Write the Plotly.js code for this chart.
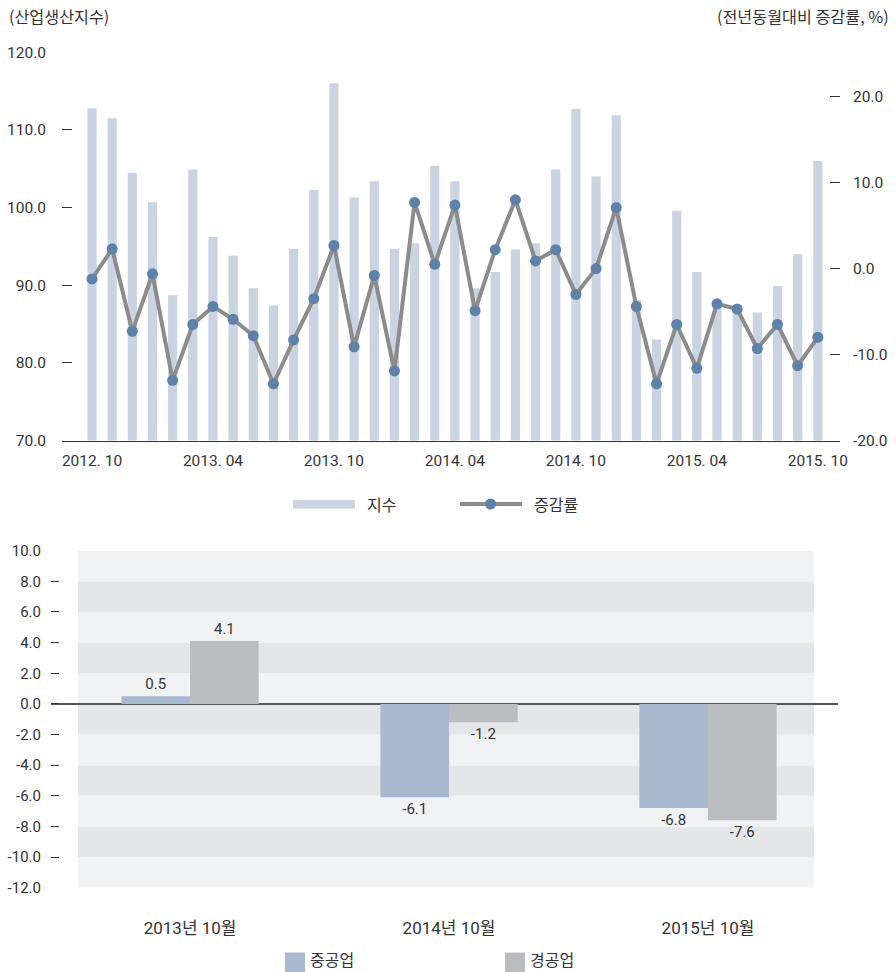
<!DOCTYPE html>
<html>
<head>
<meta charset="utf-8">
<script src="https://cdn.plot.ly/plotly-3.0.1.min.js"></script>
<style>html,body{margin:0;padding:0;background:#fff;}#chart{width:896px;height:972px;}</style>
</head>
<body>
<div id="chart"></div>
<script>
// ---------- DATA ----------
const monthLabels = ["2012.10","2012.11","2012.12","2013.01","2013.02","2013.03","2013.04","2013.05","2013.06","2013.07","2013.08","2013.09","2013.10","2013.11","2013.12","2014.01","2014.02","2014.03","2014.04","2014.05","2014.06","2014.07","2014.08","2014.09","2014.10","2014.11","2014.12","2015.01","2015.02","2015.03","2015.04","2015.05","2015.06","2015.07","2015.08","2015.09","2015.10"];
const indexValues = [112.8,111.5,104.5,100.7,88.7,104.9,96.2,93.8,89.6,87.4,94.7,102.3,116.0,101.3,103.4,94.7,95.4,105.4,103.4,89.6,91.7,94.6,95.4,104.9,112.7,104.0,111.9,88.1,83.0,99.6,91.7,88.0,86.9,86.5,89.9,94.0,106.0];
const rateValues = [-1.2,2.3,-7.3,-0.6,-13.0,-6.5,-4.4,-5.9,-7.8,-13.4,-8.3,-3.5,2.7,-9.1,-0.8,-11.9,7.7,0.5,7.4,-4.9,2.2,8.0,0.9,2.2,-3.0,0.0,7.1,-4.4,-13.4,-6.5,-11.6,-4.1,-4.7,-9.3,-6.5,-11.3,-8.0];
const topTickIdx = [0,6,12,18,24,30,36];
const topTickText = ["2012. 10","2013. 04","2013. 10","2014. 04","2014. 10","2015. 04","2015. 10"];
const leftTicks = [70,80,90,100,110,120];
const rightTicks = [-20,-10,0,10,20];
const topSeriesNames = ["지수","증감률"];
const topAxisTitles = ["(산업생산지수)","(전년동월대비 증감률, %)"];

const periods = ["2013년 10월","2014년 10월","2015년 10월"];
const heavyValues = [0.5,-6.1,-6.8];
const lightValues = [4.1,-1.2,-7.6];
const bottomSeriesNames = ["중공업","경공업"];
const bottomTicks = [-12,-10,-8,-6,-4,-2,0,2,4,6,8,10];

// ---------- STYLE ----------
const W = 896, H = 972;
const px = x => x / W;
const py = y => 1 - y / H;
const NUM_FONT = "Roboto, 'Noto Sans CJK KR', sans-serif";
const KR_FONT = "'Noto Sans CJK KR', sans-serif";
const TXT = "#333333";
const BAR_C = "#cad3e1", LINE_C = "#8c8c8c", DOT_C = "#5d81a8";
const HEAVY_C = "#a9b9d0", LIGHT_C = "#bbbcc0";
const BAND_LIGHT = "#f1f2f4", BAND_DARK = "#e5e6e8";

const xIdx = monthLabels.map((_, i) => i);

const traces = [
  {type:"bar", x:xIdx, y:indexValues, name:topSeriesNames[0], xaxis:"x", yaxis:"y",
   marker:{color:BAR_C}, width:0.455, showlegend:false, hoverinfo:"y"},
  {type:"scatter", mode:"lines+markers", x:xIdx, y:rateValues, name:topSeriesNames[1], xaxis:"x", yaxis:"y2",
   line:{color:LINE_C, width:4}, marker:{color:DOT_C, size:11}, showlegend:false},
  {type:"bar", x:periods, y:heavyValues, name:bottomSeriesNames[0], xaxis:"x2", yaxis:"y3",
   marker:{color:HEAVY_C}, text:heavyValues.map(v=>v.toFixed(1)), textposition:"outside",
   textfont:{family:NUM_FONT, size:15, color:TXT}, cliponaxis:false, showlegend:false},
  {type:"bar", x:periods, y:lightValues, name:bottomSeriesNames[1], xaxis:"x2", yaxis:"y3",
   marker:{color:LIGHT_C}, text:lightValues.map(v=>v.toFixed(1)), textposition:"outside",
   textfont:{family:NUM_FONT, size:15, color:TXT}, cliponaxis:false, showlegend:false}
];

// background bands for bottom chart, from its tick values
const shapes = [];
for (let i = 0; i < bottomTicks.length - 1; i++) {
  const lo = bottomTicks[i], hi = bottomTicks[i+1];
  const dark = (lo >= 0 ? (lo/2) % 2 === 1 : ((-hi)/2) % 2 === 0);
  shapes.push({type:"rect", xref:"paper", yref:"y3", x0:px(78), x1:px(814), y0:lo, y1:hi,
    fillcolor: dark ? BAND_DARK : BAND_LIGHT, line:{width:0}, layer:"below"});
}
// top legend swatches
shapes.push({type:"rect", xref:"paper", yref:"paper", x0:px(293), x1:px(355), y0:py(508.5), y1:py(500),
  fillcolor:BAR_C, line:{width:0}});
shapes.push({type:"line", xref:"paper", yref:"paper", x0:px(460), x1:px(522), y0:py(504), y1:py(504),
  line:{color:LINE_C, width:4}});
shapes.push({type:"circle", xref:"paper", yref:"paper", x0:px(485), x1:px(496), y0:py(509.5), y1:py(498.5),
  fillcolor:DOT_C, line:{width:0}});
// bottom legend swatches
shapes.push({type:"rect", xref:"paper", yref:"paper", x0:px(285), x1:px(305), y0:py(972), y1:py(952.5),
  fillcolor:HEAVY_C, line:{width:0}});
shapes.push({type:"rect", xref:"paper", yref:"paper", x0:px(505), x1:px(525), y0:py(972), y1:py(952.5),
  fillcolor:LIGHT_C, line:{width:0}});

const annotations = [
  {text:topAxisTitles[0], xref:"paper", yref:"paper", x:px(7), y:py(16), xanchor:"left", yanchor:"middle",
   showarrow:false, font:{family:KR_FONT, size:16.2, color:TXT}},
  {text:topAxisTitles[1], xref:"paper", yref:"paper", x:px(891), y:py(16), xanchor:"right", yanchor:"middle",
   showarrow:false, font:{family:KR_FONT, size:16.2, color:TXT}},
  {text:topSeriesNames[0], xref:"paper", yref:"paper", x:px(365), y:py(504), xanchor:"left", yanchor:"middle",
   showarrow:false, font:{family:KR_FONT, size:16, color:TXT}},
  {text:topSeriesNames[1], xref:"paper", yref:"paper", x:px(532), y:py(504), xanchor:"left", yanchor:"middle",
   showarrow:false, font:{family:KR_FONT, size:16, color:TXT}},
  {text:bottomSeriesNames[0], xref:"paper", yref:"paper", x:px(308), y:py(959), xanchor:"left", yanchor:"middle",
   showarrow:false, font:{family:KR_FONT, size:16, color:TXT}},
  {text:bottomSeriesNames[1], xref:"paper", yref:"paper", x:px(528), y:py(959), xanchor:"left", yanchor:"middle",
   showarrow:false, font:{family:KR_FONT, size:16, color:TXT}}
];

const layout = {
  width:W, height:H, margin:{l:0,r:0,t:0,b:0},
  paper_bgcolor:"#ffffff", plot_bgcolor:"rgba(0,0,0,0)",
  showlegend:false, barmode:"group", bargap:0.47, bargroupgap:0,
  xaxis:{domain:[px(62), px(840)], anchor:"y", range:[-1.488, 37.1],
    tickmode:"array", tickvals:topTickIdx, ticktext:topTickText, ticks:"",
    showline:true, linecolor:"#333", linewidth:1.5, showgrid:false, zeroline:false,
    tickfont:{family:NUM_FONT, size:15.5, color:TXT}, ticklabelstandoff:5, fixedrange:true},
  yaxis:{domain:[py(440.5), py(52.3)], anchor:"x", range:[70,120],
    tickmode:"array", tickvals:leftTicks, ticktext:leftTicks.map(v=>v.toFixed(1)),
    ticks:"inside", ticklen:10, tickcolor:"#333", tickwidth:1,
    showline:false, showgrid:false, zeroline:false,
    tickfont:{family:NUM_FONT, size:15.5, color:TXT}, ticklabelstandoff:15},
  yaxis2:{overlaying:"y", side:"right", anchor:"x", range:[-20, 25.17],
    tickmode:"array", tickvals:rightTicks, ticktext:rightTicks.map(v=>v.toFixed(1)),
    ticks:"inside", ticklen:10, tickcolor:"#333", tickwidth:1,
    showline:false, showgrid:false, zeroline:false,
    tickfont:{family:NUM_FONT, size:15.5, color:TXT}, ticklabelstandoff:12},
  xaxis2:{domain:[px(51), px(838)], anchor:"y3", type:"category", range:[-0.537, 2.502],
    ticks:"", showline:false, showgrid:false, zeroline:false,
    tickfont:{family:NUM_FONT, size:17, color:TXT}, ticklabelstandoff:28},
  yaxis3:{domain:[py(887.7), py(550.7)], anchor:"x2", range:[-12,10],
    tickmode:"array", tickvals:bottomTicks, ticktext:bottomTicks.map(v=>v.toFixed(1)),
    ticks:"inside", ticklen:8, tickcolor:"#333", tickwidth:1,
    showline:false, showgrid:false, zeroline:true, zerolinecolor:"#555", zerolinewidth:1.5,
    tickfont:{family:NUM_FONT, size:15, color:TXT}, ticklabelstandoff:9},
  shapes:shapes, annotations:annotations
};

Plotly.newPlot("chart", traces, layout, {displayModeBar:false, staticPlot:true});
</script>
</body>
</html>
